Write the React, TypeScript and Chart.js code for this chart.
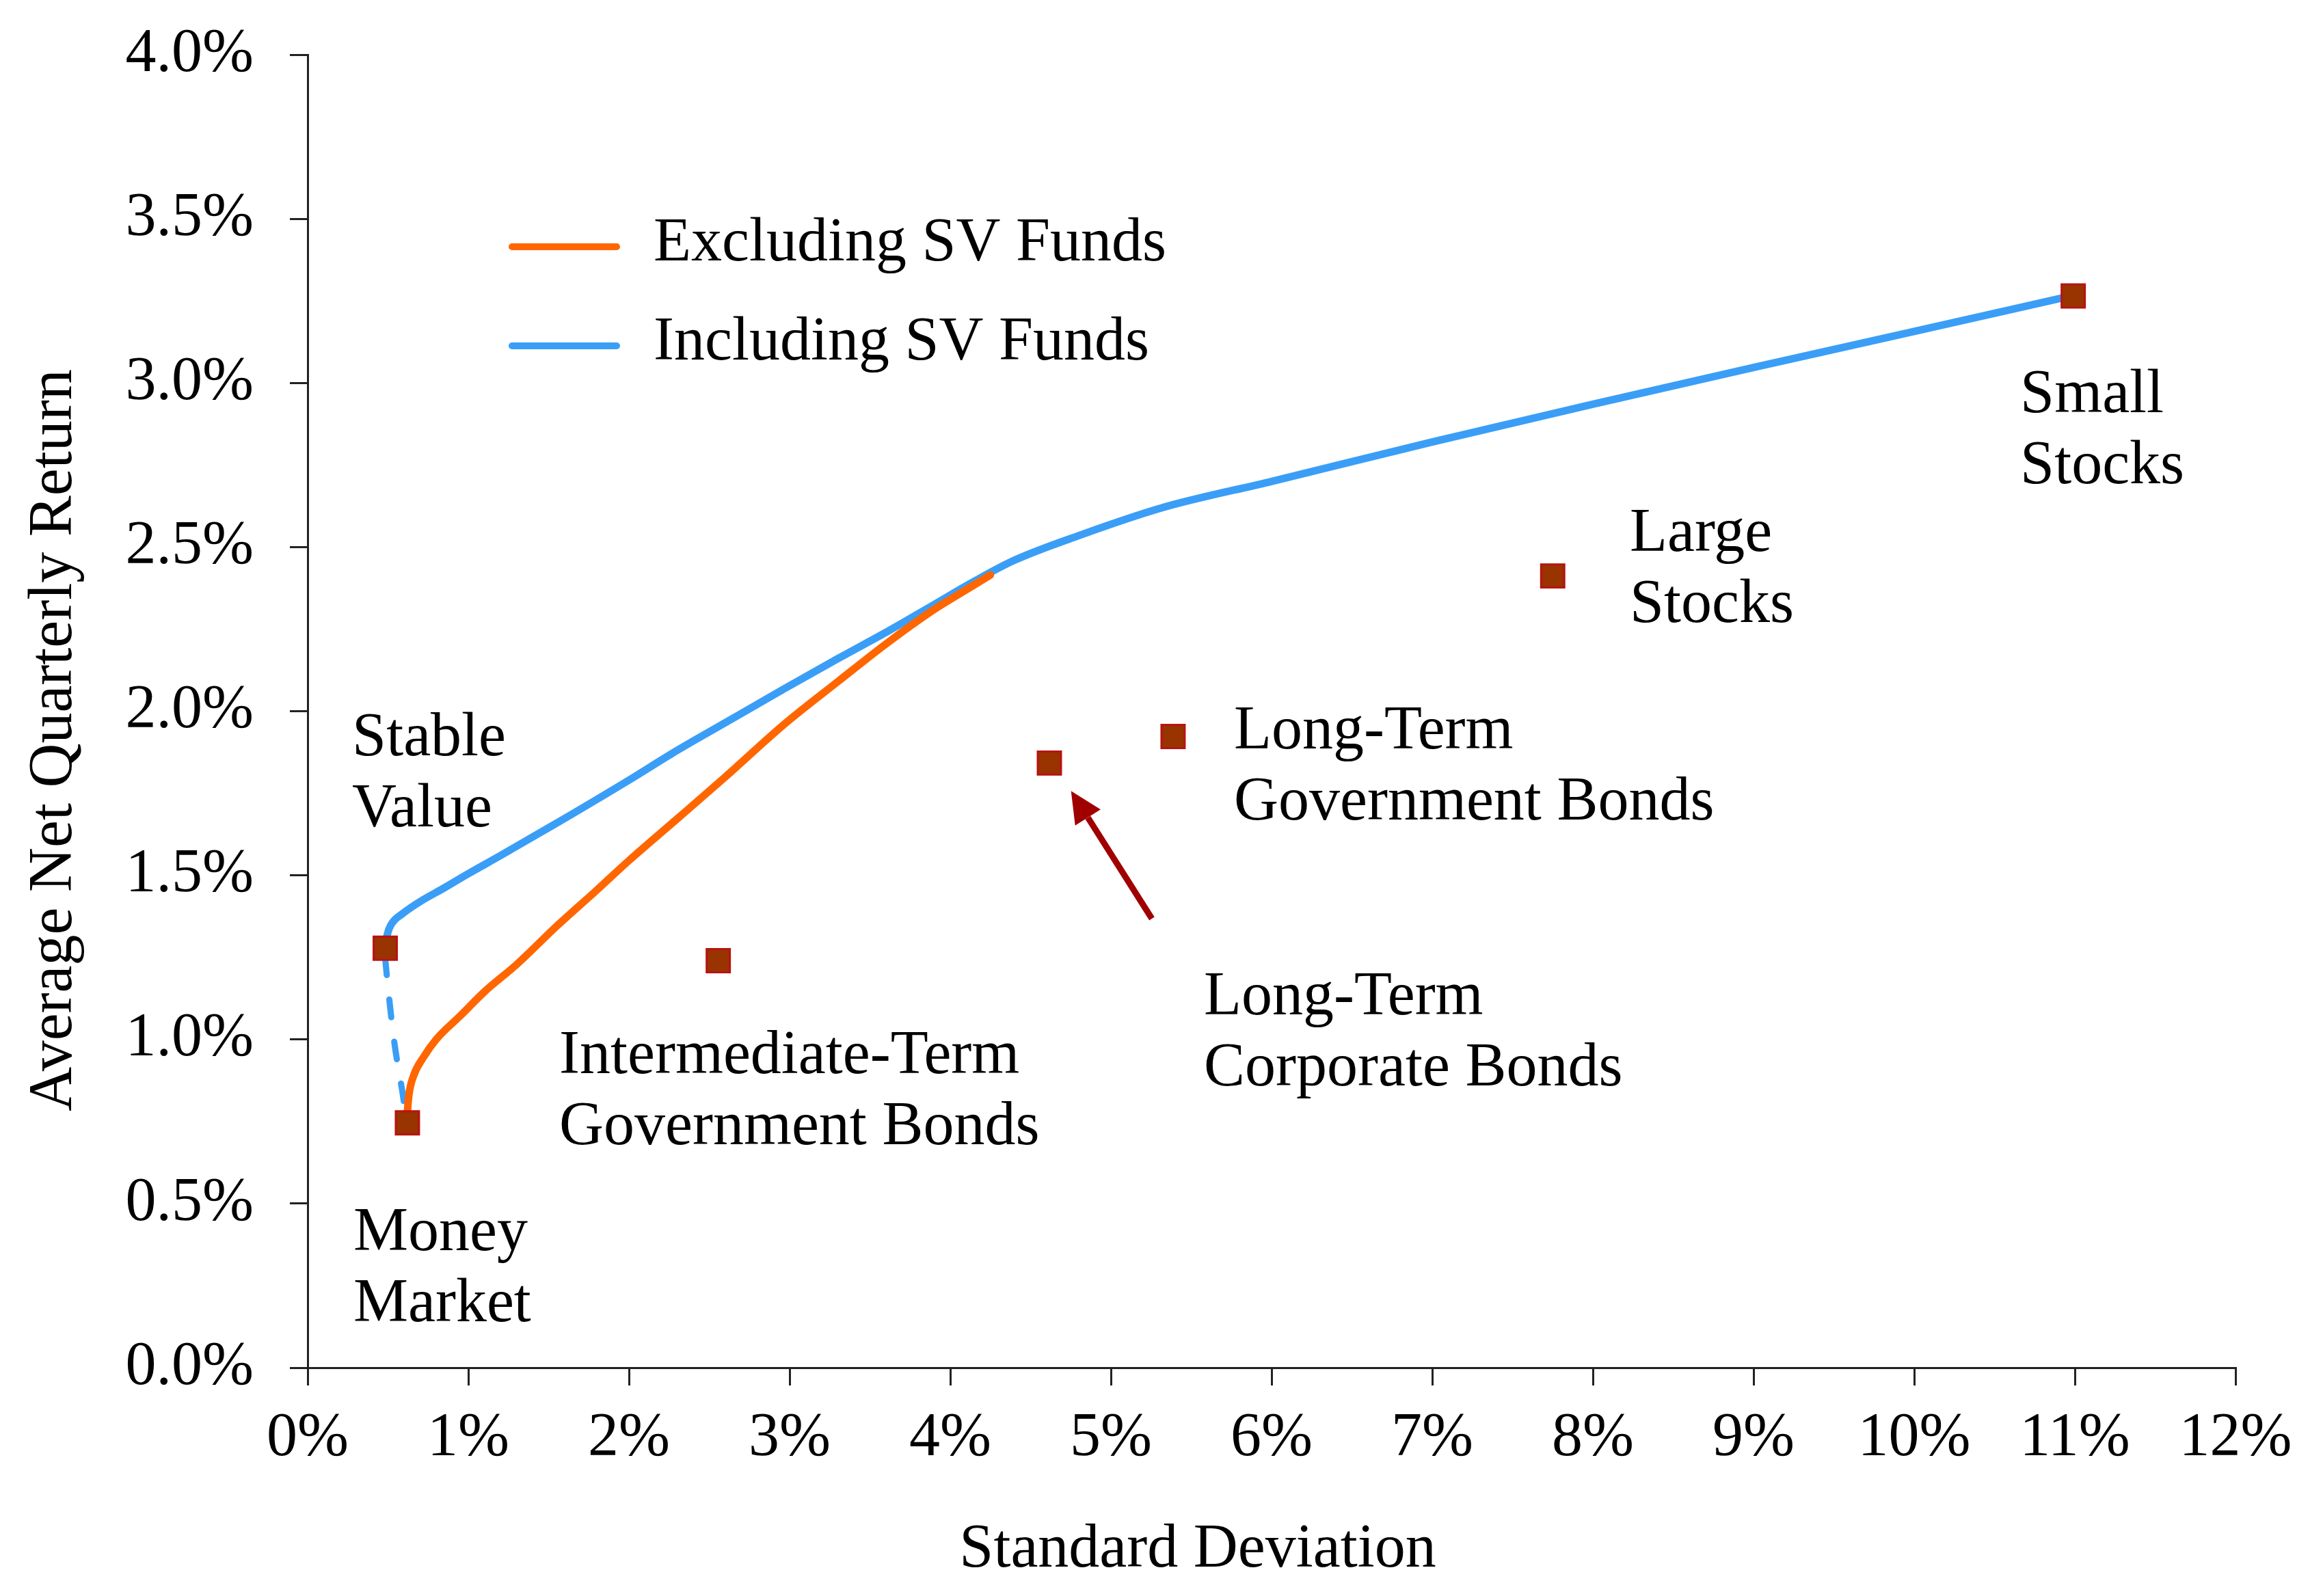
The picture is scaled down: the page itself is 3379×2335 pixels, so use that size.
import React, { useEffect, useRef } from 'react';
import { Chart, registerables } from 'chart.js';

Chart.register(...registerables);

// asset classes (standard deviation %, average net quarterly return %)
const assetNames = [
  'Stable Value',
  'Money Market',
  'Intermediate-Term Government Bonds',
  'Long-Term Corporate Bonds',
  'Long-Term Government Bonds',
  'Large Stocks',
  'Small Stocks',
];
const assetSD = [0.483, 0.621, 2.556, 4.617, 5.387, 7.75, 10.99];
const assetReturn = [1.278, 0.746, 1.24, 1.842, 1.923, 2.412, 3.265];

// efficient frontier excluding stable value funds
const exclSD = [0.62, 0.63, 0.66, 0.72, 0.8, 0.95, 1.1, 1.3, 1.55, 1.8, 2.0, 2.3, 2.6, 2.966, 3.3, 3.6, 3.9, 4.1, 4.25];
const exclReturn = [0.775, 0.83, 0.89, 0.945, 1.0, 1.072, 1.145, 1.228, 1.345, 1.455, 1.545, 1.672, 1.8, 1.96, 2.09, 2.205, 2.31, 2.37, 2.415];

// efficient frontier including stable value funds
const inclSD = [0.487, 0.495, 0.52, 0.596, 0.7, 0.851, 1.0, 1.2, 1.557, 2.0, 2.264, 2.6, 2.966, 3.3, 3.617, 3.9, 4.15, 4.4, 4.8, 5.32, 6.0, 7.0, 8.0, 9.0, 10.0, 10.95];
const inclReturn = [1.29, 1.318, 1.35, 1.385, 1.42, 1.462, 1.505, 1.56, 1.661, 1.79, 1.87, 1.965, 2.068, 2.16, 2.245, 2.325, 2.396, 2.46, 2.535, 2.62, 2.7, 2.82, 2.935, 3.047, 3.157, 3.262];

// dashed stretch of the including-SV frontier between stable value and money market
const linkSD = [0.482, 0.5, 0.52, 0.54, 0.565, 0.59, 0.608];
const linkReturn = [1.25, 1.16, 1.07, 0.99, 0.91, 0.84, 0.775];

// text annotations, anchored at the baseline of their first line
const assetLabels = [
  { lines: ['Stable', 'Value'], sd: 0.277, ret: 1.865 },
  { lines: ['Money', 'Market'], sd: 0.285, ret: 0.358 },
  { lines: ['Intermediate-Term', 'Government Bonds'], sd: 1.566, ret: 0.897 },
  { lines: ['Long-Term', 'Corporate Bonds'], sd: 5.579, ret: 1.076 },
  { lines: ['Long-Term', 'Government Bonds'], sd: 5.766, ret: 1.886 },
  { lines: ['Large', 'Stocks'], sd: 8.23, ret: 2.489 },
  { lines: ['Small', 'Stocks'], sd: 10.66, ret: 2.912 },
];
const arrowFrom = { sd: 5.255, ret: 1.368 };
const arrowTo = { sd: 4.752, ret: 1.757 };

const seriesNames = ['Excluding SV Funds', 'Including SV Funds'];
const xTitle = 'Standard Deviation';
const yTitle = 'Average Net Quarterly Return';

const FONT = "'Liberation Serif', 'Times New Roman', serif";
const FONT_SIZE = 90;
const LINE_H = 104;
const ORANGE = '#FF6600';
const BLUE = '#3A9EF7';
const AXIS = '#222222';

const toPoints = (xs: number[], ys: number[]) => xs.map((v, i) => ({ x: v, y: ys[i] }));

const overlayPlugin = {
  id: 'overlay',
  afterDatasetsDraw(chart: any) {
    const { ctx, chartArea } = chart;
    const xs = chart.scales.x;
    const ys = chart.scales.y;
    ctx.save();
    ctx.font = `${FONT_SIZE}px ${FONT}`;
    ctx.fillStyle = '#000';

    // point labels
    ctx.textAlign = 'left';
    ctx.textBaseline = 'alphabetic';
    assetLabels.forEach((l) => {
      const px = xs.getPixelForValue(l.sd);
      const py = ys.getPixelForValue(l.ret);
      l.lines.forEach((t, i) => ctx.fillText(t, px, py + i * LINE_H));
    });

    // arrow to long-term corporate bonds
    const x0 = xs.getPixelForValue(arrowFrom.sd);
    const y0 = ys.getPixelForValue(arrowFrom.ret);
    const x1 = xs.getPixelForValue(arrowTo.sd);
    const y1 = ys.getPixelForValue(arrowTo.ret);
    const ang = Math.atan2(y1 - y0, x1 - x0);
    const headLen = 46;
    const headHalf = 22;
    const bx = x1 - headLen * Math.cos(ang);
    const by = y1 - headLen * Math.sin(ang);
    ctx.strokeStyle = '#A00000';
    ctx.fillStyle = '#A00000';
    ctx.lineWidth = 9;
    ctx.lineCap = 'butt';
    ctx.beginPath();
    ctx.moveTo(x0, y0);
    ctx.lineTo(bx, by);
    ctx.stroke();
    ctx.beginPath();
    ctx.moveTo(x1, y1);
    ctx.lineTo(bx + headHalf * Math.sin(ang), by - headHalf * Math.cos(ang));
    ctx.lineTo(bx - headHalf * Math.sin(ang), by + headHalf * Math.cos(ang));
    ctx.closePath();
    ctx.fill();

    // legend
    const lx = chartArea.left + 299;
    const legendRows = [
      { name: seriesNames[0], color: ORANGE, y: chartArea.top + 281 },
      { name: seriesNames[1], color: BLUE, y: chartArea.top + 426 },
    ];
    ctx.lineWidth = 10;
    ctx.lineCap = 'round';
    legendRows.forEach((r) => {
      ctx.strokeStyle = r.color;
      ctx.beginPath();
      ctx.moveTo(lx, r.y);
      ctx.lineTo(lx + 153, r.y);
      ctx.stroke();
      ctx.fillStyle = '#000';
      ctx.textBaseline = 'middle';
      ctx.fillText(r.name, lx + 207, r.y - 4);
    });

    // axis titles
    ctx.fillStyle = '#000';
    ctx.textAlign = 'center';
    ctx.textBaseline = 'alphabetic';
    ctx.fillText(xTitle, chartArea.left + 1302, chartArea.bottom + 291);
    ctx.translate(80, chartArea.top + 1003);
    ctx.rotate(-Math.PI / 2);
    ctx.textBaseline = 'middle';
    ctx.fillText(yTitle, 0, 0);
    ctx.restore();
  },
};

export default function App() {
  const canvasRef = useRef<HTMLCanvasElement>(null);

  useEffect(() => {
    if (!canvasRef.current) return;
    const chart = new Chart(canvasRef.current, {
      type: 'scatter',
      data: {
        datasets: [
          {
            label: 'Asset classes',
            data: toPoints(assetSD, assetReturn),
            pointStyle: 'rect',
            pointRadius: 24,
            pointBackgroundColor: '#993300',
            pointBorderColor: '#B81212',
            pointBorderWidth: 3,
            showLine: false,
          },
          {
            label: seriesNames[0],
            data: toPoints(exclSD, exclReturn),
            showLine: true,
            borderColor: ORANGE,
            borderWidth: 11,
            pointRadius: 0,
            cubicInterpolationMode: 'monotone',
            borderCapStyle: 'round',
          },
          {
            label: seriesNames[1],
            data: toPoints(inclSD, inclReturn),
            showLine: true,
            borderColor: BLUE,
            borderWidth: 11,
            pointRadius: 0,
            cubicInterpolationMode: 'monotone',
            borderCapStyle: 'round',
          },
          {
            label: 'SV link',
            data: toPoints(linkSD, linkReturn),
            showLine: true,
            borderColor: BLUE,
            borderWidth: 9,
            borderDash: [26, 36],
            borderCapStyle: 'round',
            pointRadius: 0,
            tension: 0.3,
          },
        ],
      },
      options: {
        animation: false,
        responsive: true,
        maintainAspectRatio: false,
        events: [],
        layout: { padding: { top: 80, right: 109, left: 0, bottom: 0 } },
        plugins: {
          legend: { display: false },
          tooltip: { enabled: false },
        },
        scales: {
          x: {
            type: 'linear',
            min: 0,
            max: 12,
            afterFit: (s: any) => {
              s.height = 334;
            },
            border: { display: true, color: AXIS, width: 3 },
            grid: { drawOnChartArea: false, drawTicks: true, tickLength: 26, color: AXIS, lineWidth: 3 },
            ticks: {
              stepSize: 1,
              padding: 24,
              color: '#000',
              font: { family: FONT, size: FONT_SIZE },
              callback: (v: any) => `${v}%`,
            },
          },
          y: {
            type: 'linear',
            min: 0,
            max: 4,
            afterFit: (s: any) => {
              s.width = 450;
            },
            border: { display: true, color: AXIS, width: 3 },
            grid: { drawOnChartArea: false, drawTicks: true, tickLength: 26, color: AXIS, lineWidth: 3 },
            ticks: {
              stepSize: 0.5,
              padding: 53,
              color: '#000',
              // small line height keeps the label padding from pushing the chart top down
              font: { family: FONT, size: FONT_SIZE, lineHeight: 0.2 },
              callback: (v: any) => `${Number(v).toFixed(1)}%`,
            },
          },
        },
      },
      plugins: [overlayPlugin],
    } as any);
    return () => chart.destroy();
  }, []);

  return (
    <div style={{ position: 'fixed', left: 0, top: 0, width: '3379px', height: '2335px', background: '#fff' }}>
      <canvas ref={canvasRef} />
    </div>
  );
}
